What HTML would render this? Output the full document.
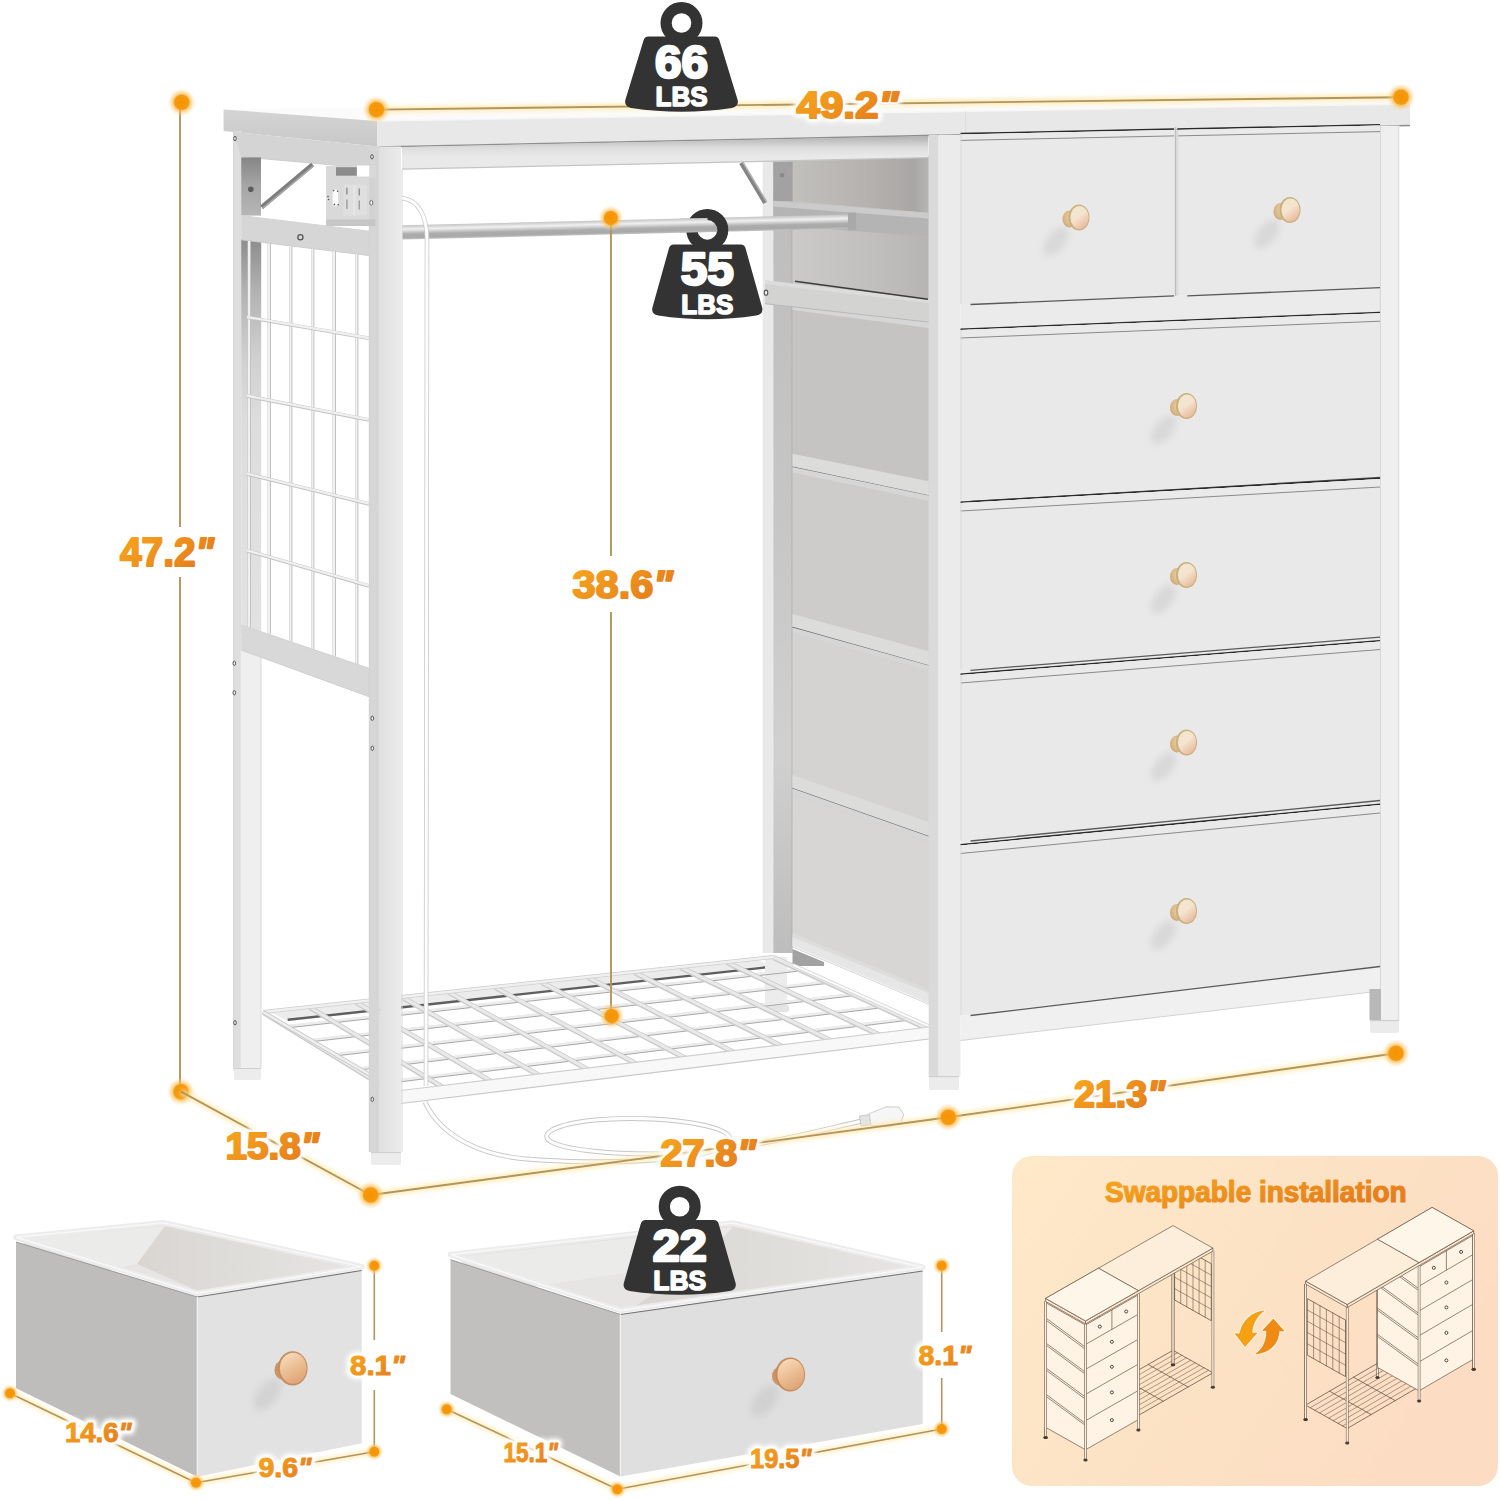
<!DOCTYPE html><html><head><meta charset="utf-8"><title>Dresser dimensions</title><style>html,body{margin:0;padding:0;background:#fff}svg{display:block}</style></head><body><svg width="1500" height="1500" viewBox="0 0 1500 1500">
<defs>
<linearGradient id="og" x1="0" y1="0" x2="1" y2="0.6"><stop offset="0" stop-color="#f7a81e"/><stop offset="1" stop-color="#e57d1c"/></linearGradient>
<radialGradient id="dotg" cx="0.5" cy="0.5" r="0.5"><stop offset="0" stop-color="#f59300"/><stop offset="0.5" stop-color="#f59a10"/><stop offset="0.58" stop-color="#f9b84a" stop-opacity="0.75"/><stop offset="1" stop-color="#fde3a8" stop-opacity="0"/></radialGradient>
<linearGradient id="rodg" x1="0" y1="0" x2="0" y2="1"><stop offset="0" stop-color="#c4c4c4"/><stop offset="0.28" stop-color="#f0f0f0"/><stop offset="0.62" stop-color="#adadad"/><stop offset="0.85" stop-color="#a8a8a8"/><stop offset="1" stop-color="#c2c2c2"/></linearGradient>
<linearGradient id="knobg" x1="0.2" y1="0" x2="0.8" y2="1"><stop offset="0" stop-color="#f2e6cc"/><stop offset="0.45" stop-color="#f4e4d0"/><stop offset="1" stop-color="#e8b496"/></linearGradient>
<linearGradient id="knobc" x1="0.25" y1="0" x2="0.75" y2="1"><stop offset="0" stop-color="#f6dcbc"/><stop offset="0.5" stop-color="#ecbd92"/><stop offset="1" stop-color="#dca274"/></linearGradient>
<linearGradient id="knobc2" x1="0" y1="0" x2="1" y2="0"><stop offset="0" stop-color="#c98f62"/><stop offset="1" stop-color="#e4b080"/></linearGradient>
<radialGradient id="knobg2" cx="0.6" cy="0.4" r="0.7"><stop offset="0" stop-color="#ead2a6"/><stop offset="0.7" stop-color="#d9b786"/><stop offset="1" stop-color="#c79e6c"/></radialGradient>
<filter id="blur2" x="-50%" y="-50%" width="200%" height="200%"><feGaussianBlur stdDeviation="2"/></filter>
<filter id="blur3" x="-50%" y="-50%" width="200%" height="200%"><feGaussianBlur stdDeviation="3.5"/></filter>
<filter id="blur1" x="-50%" y="-50%" width="200%" height="200%"><feGaussianBlur stdDeviation="1.2"/></filter>
<filter id="blur5" x="-50%" y="-50%" width="200%" height="200%"><feGaussianBlur stdDeviation="5"/></filter>
<linearGradient id="panelg" x1="0" y1="0" x2="1" y2="0.45"><stop offset="0" stop-color="#fee9c9"/><stop offset="0.5" stop-color="#fce3c5"/><stop offset="1" stop-color="#fcddc3"/></linearGradient>
<radialGradient id="panelglow" cx="0.42" cy="0.12" r="0.6"><stop offset="0" stop-color="#f9cf9a" stop-opacity="0.6"/><stop offset="1" stop-color="#f9cf9a" stop-opacity="0"/></radialGradient>
<linearGradient id="postin" x1="0" y1="0" x2="0" y2="1"><stop offset="0" stop-color="#bcbcbc"/><stop offset="0.45" stop-color="#c6c6c6"/><stop offset="0.75" stop-color="#d0d0d0"/><stop offset="1" stop-color="#bdbdbd"/></linearGradient>
<linearGradient id="sidetop" x1="0" y1="0" x2="1" y2="0"><stop offset="0" stop-color="#c1c0bd"/><stop offset="0.5" stop-color="#b7b3b1"/><stop offset="0.9" stop-color="#a9a7a5"/><stop offset="1" stop-color="#b6b6b6"/></linearGradient>
<linearGradient id="sidemid" x1="0" y1="0" x2="1" y2="0"><stop offset="0" stop-color="#cbcac8"/><stop offset="0.6" stop-color="#c0bfbd"/><stop offset="1" stop-color="#b7b5b3"/></linearGradient>
<linearGradient id="innerstrip" x1="0" y1="0" x2="0" y2="1"><stop offset="0" stop-color="#8c8c8c"/><stop offset="0.13" stop-color="#b2b2b2"/><stop offset="0.3" stop-color="#d0d0d0"/><stop offset="0.46" stop-color="#dddddd"/><stop offset="1" stop-color="#e2e2e2"/></linearGradient>
<linearGradient id="plateg" x1="0" y1="0" x2="0" y2="1"><stop offset="0" stop-color="#868686"/><stop offset="0.5" stop-color="#a6a6a6"/><stop offset="1" stop-color="#b6b6b6"/></linearGradient>
<linearGradient id="ttside" x1="0" y1="0" x2="0" y2="1"><stop offset="0" stop-color="#d4d4d4"/><stop offset="1" stop-color="#c8c8c8"/></linearGradient>
<linearGradient id="legfront" x1="0" y1="0" x2="1" y2="0"><stop offset="0" stop-color="#e0e0e0"/><stop offset="1" stop-color="#ebebeb"/></linearGradient>
<linearGradient id="railshadow" x1="0" y1="0" x2="0" y2="1"><stop offset="0" stop-color="#b0b0b0"/><stop offset="0.35" stop-color="#dcdcdc"/><stop offset="0.6" stop-color="#e9e9e9"/><stop offset="1" stop-color="#e9e9e9"/></linearGradient>
<linearGradient id="inwall" x1="0" y1="0" x2="1" y2="0"><stop offset="0" stop-color="#d9d6d2"/><stop offset="1" stop-color="#e6e5e3"/></linearGradient>
<linearGradient id="fab" x1="0" y1="0" x2="0" y2="1"><stop offset="0" stop-color="#e9e9e9"/><stop offset="1" stop-color="#ececec"/></linearGradient>
<linearGradient id="sidefab" x1="0" y1="0" x2="1" y2="0"><stop offset="0" stop-color="#e0e0e0"/><stop offset="1" stop-color="#e9e9e9"/></linearGradient>
<linearGradient id="arrg" x1="0" y1="0" x2="0" y2="1"><stop offset="0" stop-color="#f9b233"/><stop offset="1" stop-color="#ee8a1d"/></linearGradient>
</defs>
<polygon points="223.6,109.4 377.2,121.0 1410.0,104.0 1399.0,96.5 1260.0,93.5" fill="#fbfbfb" />
<rect x="762.7" y="158.0" width="10.6" height="795.0" fill="#e9e9e9" />
<rect x="773.3" y="158.0" width="19.4" height="795.0" fill="url(#postin)" />
<line x1="792.3" y1="160.0" x2="792.3" y2="946.0" stroke="#8e8e8e" stroke-width="0.9" />
<polygon points="792.5,158.0 928.7,155.0 928.7,1003.3 792.5,946.0" fill="#c8c7c5" />
<polygon points="792.5,160.0 928.7,156.5 928.7,213.0 792.5,201.0" fill="url(#sidetop)" />
<polygon points="792.5,224.0 928.7,236.7 928.7,299.3 792.5,281.3" fill="url(#sidemid)" />
<rect x="773.3" y="162.0" width="19.2" height="39.0" fill="#a2a2a2" />
<circle cx="782" cy="175.3" r="2.3" fill="#8a8a8a"/>
<polygon points="773.3,200.7 928.7,212.7 928.7,236.7 773.3,224.7" fill="#b4b4b4" />
<polygon points="773.3,200.7 928.7,212.7 928.7,218.5 773.3,206.5" fill="#cbcbcb" />
<polygon points="792.5,310.0 928.7,328.0 928.7,495.3 792.5,466.7" fill="#c5c4c2" />
<polygon points="792.5,453.7 928.7,481.3 928.7,495.3 792.5,466.7" fill="#dcdcdb" />
<polygon points="792.5,304.5 928.7,322.5 928.7,328.0 792.5,310.0" fill="#d6d6d6" />
<line x1="792.5" y1="467.1" x2="928.7" y2="495.7" stroke="#6a6a6a" stroke-width="1.1" />
<polygon points="792.5,472.5 928.7,501.0 928.7,665.3 792.5,627.0" fill="#cdccca" />
<polygon points="792.5,614.0 928.7,651.3 928.7,665.3 792.5,627.0" fill="#dcdcdb" />
<polygon points="792.5,467.0 928.7,495.5 928.7,501.0 792.5,472.5" fill="#d6d6d6" />
<line x1="792.5" y1="627.4" x2="928.7" y2="665.7" stroke="#6a6a6a" stroke-width="1.1" />
<polygon points="792.5,633.0 928.7,671.0 928.7,836.0 792.5,788.0" fill="#d4d3d1" />
<polygon points="792.5,775.0 928.7,822.0 928.7,836.0 792.5,788.0" fill="#dcdcdb" />
<polygon points="792.5,627.5 928.7,665.5 928.7,671.0 792.5,633.0" fill="#d6d6d6" />
<line x1="792.5" y1="788.4" x2="928.7" y2="836.4" stroke="#6a6a6a" stroke-width="1.1" />
<polygon points="792.5,794.0 928.7,842.0 928.7,1003.3 792.5,946.0" fill="#d7d6d4" />
<polygon points="792.5,933.0 928.7,989.3 928.7,1003.3 792.5,946.0" fill="#dcdcdb" />
<polygon points="792.5,788.5 928.7,836.5 928.7,842.0 792.5,794.0" fill="#d6d6d6" />
<line x1="792.5" y1="946.4" x2="928.7" y2="1003.7" stroke="#6a6a6a" stroke-width="1.1" />
<polygon points="792.5,937.0 928.7,993.3 928.7,1003.3 792.5,946.0" fill="#e6e6e6" />
<line x1="792.5" y1="946.3" x2="928.7" y2="1003.6" stroke="#efefef" stroke-width="1.6" />
<polygon points="792.5,949.0 824.0,962.0 824.0,966.0 792.5,966.0" fill="#a2a2a2" />
<polygon points="765.0,280.3 936.7,300.3 936.7,323.0 765.0,303.7" fill="#d3d3d1" />
<polygon points="765.0,280.3 936.7,300.3 936.7,304.0 765.0,284.0" fill="#dcdcdc" />
<line x1="795.0" y1="281.3" x2="928.0" y2="299.3" stroke="#3c3c3c" stroke-width="1.4" />
<line x1="765.0" y1="303.7" x2="936.7" y2="323.0" stroke="#b9b9b9" stroke-width="1" />
<ellipse cx="766" cy="292.7" rx="1.8" ry="2.6" fill="#eee" stroke="#555" stroke-width="1.1"/><ellipse cx="932.7" cy="316.2" rx="1.8" ry="2.6" fill="#eee" stroke="#555" stroke-width="1.1"/>
<polygon points="223.6,109.4 377.2,121.0 377.2,146.5 223.6,131.0" fill="url(#ttside)" />
<polygon points="377.2,121.0 1410.0,104.0 1410.0,125.0 377.2,146.5" fill="#e8e8e8"/>
<line x1="377.2" y1="147.0" x2="1410.0" y2="125.5" stroke="#8f8f8f" stroke-width="1.6" />
<line x1="377.2" y1="121.0" x2="1410.0" y2="104.0" stroke="#f6f6f6" stroke-width="1.5" />
<line x1="965.6" y1="111.3" x2="965.6" y2="134.3" stroke="#dddddd" stroke-width="1" />
<polygon points="402.0,147.0 928.3,136.0 928.3,157.7 402.0,169.2" fill="url(#railshadow)" />
<line x1="402.0" y1="169.2" x2="928.3" y2="157.7" stroke="#c4c4c4" stroke-width="1.2" />
<line x1="741.0" y1="163.0" x2="765.0" y2="203.0" stroke="#848484" stroke-width="4" />
<line x1="742.8" y1="162.0" x2="766.8" y2="202.0" stroke="#b5b5b5" stroke-width="1.5" />
<polygon points="271.9,1013.0 758.3,960.4 775.3,967.7 288.8,1021.2" fill="#ececec" />
<line x1="287.7" y1="1019.8" x2="770.3" y2="966.9" stroke="#5e5e5e" stroke-width="2.4" />
<rect x="765.0" y="957.0" width="22.0" height="52.0" fill="#ececec" />
<rect x="763.0" y="1005.0" width="26.0" height="7.0" fill="#e4e4e4" rx="2"/>
<line x1="286.0" y1="1027.0" x2="799.7" y2="970.1" stroke="#a8a8a8" stroke-width="3.0" />
<line x1="286.0" y1="1026.2" x2="799.7" y2="969.3" stroke="#ececec" stroke-width="2.6" />
<line x1="309.0" y1="1041.1" x2="826.3" y2="982.5" stroke="#a8a8a8" stroke-width="3.0" />
<line x1="309.0" y1="1040.3" x2="826.3" y2="981.7" stroke="#ececec" stroke-width="2.6" />
<line x1="332.0" y1="1055.3" x2="853.0" y2="994.8" stroke="#a8a8a8" stroke-width="3.0" />
<line x1="332.0" y1="1054.5" x2="853.0" y2="994.0" stroke="#ececec" stroke-width="2.6" />
<line x1="355.0" y1="1069.5" x2="879.7" y2="1007.1" stroke="#a8a8a8" stroke-width="3.0" />
<line x1="355.0" y1="1068.7" x2="879.7" y2="1006.3" stroke="#ececec" stroke-width="2.6" />
<line x1="378.0" y1="1083.6" x2="906.3" y2="1019.5" stroke="#a8a8a8" stroke-width="3.0" />
<line x1="378.0" y1="1082.8" x2="906.3" y2="1018.7" stroke="#ececec" stroke-width="2.6" />
<line x1="264.0" y1="1013.5" x2="402.0" y2="1098.5" stroke="#d2d2d2" stroke-width="4.2" />
<line x1="263.0" y1="1012.0" x2="401.0" y2="1097.0" stroke="#c2c2c2" stroke-width="4.4" />
<line x1="263.0" y1="1012.0" x2="401.0" y2="1097.0" stroke="#e9e9e9" stroke-width="3.2" />
<line x1="310.4" y1="1008.5" x2="450.4" y2="1092.5" stroke="#d2d2d2" stroke-width="4.2" />
<line x1="309.4" y1="1007.0" x2="449.4" y2="1091.0" stroke="#c2c2c2" stroke-width="4.4" />
<line x1="309.4" y1="1007.0" x2="449.4" y2="1091.0" stroke="#e9e9e9" stroke-width="3.2" />
<line x1="356.7" y1="1003.5" x2="498.7" y2="1086.5" stroke="#d2d2d2" stroke-width="4.2" />
<line x1="355.7" y1="1002.0" x2="497.7" y2="1085.0" stroke="#c2c2c2" stroke-width="4.4" />
<line x1="355.7" y1="1002.0" x2="497.7" y2="1085.0" stroke="#e9e9e9" stroke-width="3.2" />
<line x1="403.1" y1="998.5" x2="547.1" y2="1080.5" stroke="#d2d2d2" stroke-width="4.2" />
<line x1="402.1" y1="997.0" x2="546.1" y2="1079.0" stroke="#c2c2c2" stroke-width="4.4" />
<line x1="402.1" y1="997.0" x2="546.1" y2="1079.0" stroke="#e9e9e9" stroke-width="3.2" />
<line x1="449.5" y1="993.5" x2="595.5" y2="1074.5" stroke="#d2d2d2" stroke-width="4.2" />
<line x1="448.5" y1="992.0" x2="594.5" y2="1073.0" stroke="#c2c2c2" stroke-width="4.4" />
<line x1="448.5" y1="992.0" x2="594.5" y2="1073.0" stroke="#e9e9e9" stroke-width="3.2" />
<line x1="495.8" y1="988.5" x2="643.8" y2="1068.5" stroke="#d2d2d2" stroke-width="4.2" />
<line x1="494.8" y1="987.0" x2="642.8" y2="1067.0" stroke="#c2c2c2" stroke-width="4.4" />
<line x1="494.8" y1="987.0" x2="642.8" y2="1067.0" stroke="#e9e9e9" stroke-width="3.2" />
<line x1="542.2" y1="983.5" x2="692.2" y2="1062.5" stroke="#d2d2d2" stroke-width="4.2" />
<line x1="541.2" y1="982.0" x2="691.2" y2="1061.0" stroke="#c2c2c2" stroke-width="4.4" />
<line x1="541.2" y1="982.0" x2="691.2" y2="1061.0" stroke="#e9e9e9" stroke-width="3.2" />
<line x1="588.5" y1="978.5" x2="740.5" y2="1056.5" stroke="#d2d2d2" stroke-width="4.2" />
<line x1="587.5" y1="977.0" x2="739.5" y2="1055.0" stroke="#c2c2c2" stroke-width="4.4" />
<line x1="587.5" y1="977.0" x2="739.5" y2="1055.0" stroke="#e9e9e9" stroke-width="3.2" />
<line x1="634.9" y1="973.5" x2="788.9" y2="1050.5" stroke="#d2d2d2" stroke-width="4.2" />
<line x1="633.9" y1="972.0" x2="787.9" y2="1049.0" stroke="#c2c2c2" stroke-width="4.4" />
<line x1="633.9" y1="972.0" x2="787.9" y2="1049.0" stroke="#e9e9e9" stroke-width="3.2" />
<line x1="681.3" y1="968.5" x2="837.3" y2="1044.5" stroke="#d2d2d2" stroke-width="4.2" />
<line x1="680.3" y1="967.0" x2="836.3" y2="1043.0" stroke="#c2c2c2" stroke-width="4.4" />
<line x1="680.3" y1="967.0" x2="836.3" y2="1043.0" stroke="#e9e9e9" stroke-width="3.2" />
<line x1="727.6" y1="963.5" x2="885.6" y2="1038.5" stroke="#d2d2d2" stroke-width="4.2" />
<line x1="726.6" y1="962.0" x2="884.6" y2="1037.0" stroke="#c2c2c2" stroke-width="4.4" />
<line x1="726.6" y1="962.0" x2="884.6" y2="1037.0" stroke="#e9e9e9" stroke-width="3.2" />
<line x1="774.0" y1="958.5" x2="934.0" y2="1032.5" stroke="#d2d2d2" stroke-width="4.2" />
<line x1="773.0" y1="957.0" x2="933.0" y2="1031.0" stroke="#c2c2c2" stroke-width="4.4" />
<line x1="773.0" y1="957.0" x2="933.0" y2="1031.0" stroke="#e9e9e9" stroke-width="3.2" />
<line x1="263.0" y1="1012.0" x2="773.0" y2="957.0" stroke="#cccccc" stroke-width="4" />
<line x1="263.0" y1="1012.0" x2="773.0" y2="957.0" stroke="#f0f0f0" stroke-width="2.5" />
<line x1="263.0" y1="1012.0" x2="401.0" y2="1093.0" stroke="#c6c6c6" stroke-width="4" />
<line x1="263.0" y1="1012.0" x2="401.0" y2="1093.0" stroke="#efefef" stroke-width="2.5" />
<line x1="793.0" y1="965.0" x2="933.0" y2="1028.0" stroke="#d2d2d2" stroke-width="3.6" />
<line x1="793.0" y1="965.0" x2="933.0" y2="1028.0" stroke="#fafafa" stroke-width="2.2" />
<polygon points="401.0,1090.5 933.0,1026.5 933.0,1038.5 401.0,1103.5" fill="#f8f8f8" />
<line x1="401.0" y1="1090.5" x2="933.0" y2="1026.5" stroke="#cfcfcf" stroke-width="1.2" />
<line x1="401.0" y1="1103.5" x2="933.0" y2="1038.5" stroke="#c9c9c9" stroke-width="1.2" />
<g transform="rotate(-1.387 402 225.3)"><rect x="402" y="225.3" width="446.2" height="14.2" fill="url(#rodg)"/><rect x="848" y="223.6" width="8" height="17.6" fill="#a9a9a9"/></g>
<rect x="233.4" y="131.0" width="7.8" height="940.0" fill="#dedede" />
<rect x="241.2" y="239.0" width="20.0" height="395.0" fill="url(#innerstrip)" />
<rect x="240.7" y="648.0" width="20.3" height="422.0" fill="#efefef" />
<line x1="261.0" y1="650.0" x2="261.0" y2="1068.0" stroke="#d9d9d9" stroke-width="1" />
<line x1="233.6" y1="131.0" x2="233.6" y2="1068.0" stroke="#d5d5d5" stroke-width="1" />
<rect x="234.0" y="1068.0" width="27.0" height="12.0" fill="#ececec" rx="2"/>
<line x1="234.0" y1="1068.5" x2="261.0" y2="1068.5" stroke="#cfcfcf" stroke-width="1" />
<polygon points="233.4,132.0 377.2,146.5 369.0,168.2 241.2,156.8" fill="#d4d4d4" />
<line x1="241.2" y1="156.8" x2="369.0" y2="168.2" stroke="#cfcfcf" stroke-width="1" />
<rect x="241.2" y="157.4" width="19.8" height="58.2" fill="url(#plateg)" />
<circle cx="250.8" cy="189.2" r="2.8" fill="#5c5c5c"/>
<line x1="261.6" y1="207.2" x2="312.6" y2="164.6" stroke="#7e7e7e" stroke-width="4.5" />
<line x1="262.6" y1="208.4" x2="313.6" y2="165.8" stroke="#a8a8a8" stroke-width="1.6" />
<polygon points="241.2,215.6 369.0,231.2 369.0,255.5 241.2,239.8" fill="#d6d6d6" />
<line x1="241.2" y1="215.6" x2="369.0" y2="231.2" stroke="#d3d3d3" stroke-width="1" />
<line x1="241.2" y1="239.8" x2="369.0" y2="255.5" stroke="#cccccc" stroke-width="1" />
<circle cx="300.4" cy="237.2" r="2.6" fill="none" stroke="#555" stroke-width="1.3"/>
<line x1="249.3" y1="240.8" x2="249.3" y2="627.7" stroke="#bdbdbd" stroke-width="3.4" />
<line x1="249.0" y1="240.8" x2="249.0" y2="627.7" stroke="#f0f0f0" stroke-width="2.2" />
<line x1="269.3" y1="243.3" x2="269.3" y2="634.5" stroke="#bdbdbd" stroke-width="3.4" />
<line x1="269.0" y1="243.3" x2="269.0" y2="634.5" stroke="#f0f0f0" stroke-width="2.2" />
<line x1="290.7" y1="245.9" x2="290.7" y2="641.8" stroke="#bdbdbd" stroke-width="3.4" />
<line x1="290.4" y1="245.9" x2="290.4" y2="641.8" stroke="#f0f0f0" stroke-width="2.2" />
<line x1="312.7" y1="248.6" x2="312.7" y2="649.2" stroke="#bdbdbd" stroke-width="3.4" />
<line x1="312.4" y1="248.6" x2="312.4" y2="649.2" stroke="#f0f0f0" stroke-width="2.2" />
<line x1="334.3" y1="251.2" x2="334.3" y2="656.5" stroke="#bdbdbd" stroke-width="3.4" />
<line x1="334.0" y1="251.2" x2="334.0" y2="656.5" stroke="#f0f0f0" stroke-width="2.2" />
<line x1="356.7" y1="254.0" x2="356.7" y2="664.1" stroke="#bdbdbd" stroke-width="3.4" />
<line x1="356.4" y1="254.0" x2="356.4" y2="664.1" stroke="#f0f0f0" stroke-width="2.2" />
<line x1="247.0" y1="317.3" x2="369.0" y2="338.3" stroke="#c2c2c2" stroke-width="3.6" />
<line x1="247.0" y1="317.0" x2="369.0" y2="338.0" stroke="#f0f0f0" stroke-width="2.3" />
<line x1="247.0" y1="396.0" x2="369.0" y2="420.0" stroke="#c2c2c2" stroke-width="3.6" />
<line x1="247.0" y1="395.7" x2="369.0" y2="419.7" stroke="#f0f0f0" stroke-width="2.3" />
<line x1="247.0" y1="474.0" x2="369.0" y2="504.0" stroke="#c2c2c2" stroke-width="3.6" />
<line x1="247.0" y1="473.7" x2="369.0" y2="503.7" stroke="#f0f0f0" stroke-width="2.3" />
<line x1="247.0" y1="550.7" x2="369.0" y2="586.0" stroke="#c2c2c2" stroke-width="3.6" />
<line x1="247.0" y1="550.4" x2="369.0" y2="585.7" stroke="#f0f0f0" stroke-width="2.3" />
<polygon points="241.2,625.0 369.0,668.3 369.0,696.7 241.2,650.0" fill="#d8d8d8" />
<line x1="241.2" y1="625.0" x2="369.0" y2="668.3" stroke="#d3d3d3" stroke-width="1" />
<line x1="241.2" y1="650.0" x2="369.0" y2="696.7" stroke="#cfcfcf" stroke-width="1" />
<rect x="369.0" y="146.0" width="10.7" height="1006.0" fill="#d6d6d6" />
<rect x="379.7" y="146.5" width="21.3" height="1006.0" fill="url(#legfront)" />
<line x1="369.3" y1="150.0" x2="369.3" y2="1152.0" stroke="#d2d2d2" stroke-width="1" />
<line x1="402.0" y1="170.0" x2="402.0" y2="1152.0" stroke="#d8d8d8" stroke-width="1" />
<line x1="379.2" y1="147.0" x2="379.2" y2="1152.0" stroke="#e0e0e0" stroke-width="0.8" />
<rect x="371.0" y="1152.0" width="30.0" height="13.0" fill="#ececec" rx="2.5"/>
<line x1="371.0" y1="1152.6" x2="401.0" y2="1152.6" stroke="#cccccc" stroke-width="1" />
<rect x="326.1" y="166.0" width="49.4" height="53.2" fill="#d9d9d9" />
<rect x="356.8" y="165.5" width="12.4" height="11.0" fill="#ffffff" />
<rect x="336.0" y="167.2" width="20.8" height="8.5" fill="#8c8c8c" />
<rect x="326.1" y="219.2" width="49.4" height="6.8" fill="#c6c6c6" />
<rect x="369.5" y="178.0" width="6.0" height="41.0" fill="#d2d2d2" />
<rect x="343.5" y="184.5" width="23.4" height="31.0" fill="#dfdfdf" />
<line x1="354.1" y1="185.0" x2="354.1" y2="215.5" stroke="#ececec" stroke-width="1.2" />
<line x1="346.9" y1="187.7" x2="346.9" y2="194.5" stroke="#777" stroke-width="1.1" />
<line x1="346.9" y1="199.5" x2="346.9" y2="209.0" stroke="#8a8a8a" stroke-width="1.1" />
<line x1="359.2" y1="188.5" x2="359.2" y2="195.5" stroke="#777" stroke-width="1.1" />
<line x1="359.2" y1="200.5" x2="359.2" y2="209.5" stroke="#8a8a8a" stroke-width="1.1" />
<rect x="332.6" y="189.5" width="5.6" height="16.2" fill="#fbfbfb" rx="2.2"/>
<circle cx="333.6" cy="190.6" r="0.8" fill="#555"/>
<circle cx="337.6" cy="191.2" r="0.8" fill="#555"/>
<circle cx="334.4" cy="204.4" r="0.8" fill="#555"/>
<circle cx="338.2" cy="204.8" r="0.8" fill="#555"/>
<circle cx="328" cy="196.5" r="0.8" fill="#555"/>
<circle cx="328.6" cy="199.5" r="0.8" fill="#555"/>
<ellipse cx="371.3" cy="202.7" rx="1.5" ry="2.4" fill="#eee" stroke="#666" stroke-width="0.9"/>
<ellipse cx="235" cy="138.5" rx="1.3" ry="2.2" fill="#eee" stroke="#555" stroke-width="1"/>
<ellipse cx="372" cy="156.8" rx="1.3" ry="2.2" fill="#eee" stroke="#555" stroke-width="1"/>
<ellipse cx="234.3" cy="663.3" rx="1.3" ry="2.2" fill="#eee" stroke="#555" stroke-width="1"/>
<ellipse cx="234.3" cy="692.7" rx="1.3" ry="2.2" fill="#eee" stroke="#555" stroke-width="1"/>
<ellipse cx="372.3" cy="718.3" rx="1.3" ry="2.2" fill="#eee" stroke="#555" stroke-width="1"/>
<ellipse cx="372.3" cy="748.3" rx="1.3" ry="2.2" fill="#eee" stroke="#555" stroke-width="1"/>
<ellipse cx="235" cy="1022.7" rx="1.3" ry="2.2" fill="#eee" stroke="#555" stroke-width="1"/>
<ellipse cx="372.3" cy="1099.3" rx="1.3" ry="2.2" fill="#eee" stroke="#555" stroke-width="1"/>
<rect x="928.7" y="135.0" width="10.0" height="941.7" fill="#dadada" />
<rect x="938.7" y="134.8" width="21.8" height="941.9" fill="#ebebeb" />
<rect x="929.0" y="1076.0" width="30.0" height="14.0" fill="#ececec" rx="2.5"/>
<line x1="929.0" y1="1076.6" x2="959.0" y2="1076.6" stroke="#cccccc" stroke-width="1" />
<polygon points="960.5,134.4 1380.0,125.6 1380.0,968.0 960.5,1017.0" fill="#ebebeb" />
<rect x="1380.5" y="125.6" width="19.0" height="894.4" fill="#efefef" />
<line x1="1380.3" y1="126.0" x2="1380.3" y2="1020.0" stroke="#d0d0d0" stroke-width="1" />
<line x1="1398.4" y1="126.0" x2="1398.4" y2="1020.0" stroke="#dedede" stroke-width="1" />
<rect x="1370.0" y="1020.0" width="29.0" height="13.0" fill="#ebebeb" rx="2.5"/>
<line x1="1370.0" y1="1020.6" x2="1399.0" y2="1020.6" stroke="#cccccc" stroke-width="1" />
<polygon points="960.5,1015.0 1380.0,966.0 1380.0,991.0 960.5,1040.5" fill="#f0f0f0" />
<line x1="960.5" y1="1040.5" x2="1380.0" y2="991.0" stroke="#d2d2d2" stroke-width="1" />
<rect x="1369.5" y="989.0" width="11.5" height="31.0" fill="#b8b8b8" />
<line x1="960.5" y1="133.6" x2="1174.0" y2="129.1" stroke="#2a2a2a" stroke-width="1.5" />
<polygon points="960.5,134.4 1174.0,129.9 1174.0,295.4 960.5,304.0" fill="#e9e9e9" />
<polygon points="960.5,134.4 1174.0,129.9 1174.0,135.9 960.5,140.4" fill="#eaeaea" />
<line x1="960.5" y1="140.4" x2="1174.0" y2="135.9" stroke="#8a8a8a" stroke-width="1" />
<line x1="970.5" y1="304.5" x2="1174.0" y2="295.9" stroke="#5a5a5a" stroke-width="1.3" />
<line x1="961.0" y1="134.4" x2="961.0" y2="304.0" stroke="#d8d8d8" stroke-width="1" />
<line x1="1177.3" y1="129.1" x2="1380.0" y2="124.8" stroke="#2a2a2a" stroke-width="1.5" />
<polygon points="1177.3,129.9 1380.0,125.6 1380.0,287.2 1177.3,295.3" fill="#e9e9e9" />
<polygon points="1177.3,129.9 1380.0,125.6 1380.0,131.6 1177.3,135.9" fill="#eaeaea" />
<line x1="1177.3" y1="135.9" x2="1380.0" y2="131.6" stroke="#8a8a8a" stroke-width="1" />
<line x1="1187.3" y1="295.8" x2="1380.0" y2="287.7" stroke="#5a5a5a" stroke-width="1.3" />
<line x1="1177.8" y1="129.9" x2="1177.8" y2="295.3" stroke="#d8d8d8" stroke-width="1" />
<line x1="1175.6" y1="127.0" x2="1175.6" y2="296.0" stroke="#bdbdbd" stroke-width="1.6" />
<line x1="960.5" y1="329.2" x2="1380.0" y2="312.4" stroke="#2a2a2a" stroke-width="1.5" />
<polygon points="960.5,330.0 1380.0,313.2 1380.0,477.0 960.5,501.0" fill="#e9e9e9" />
<polygon points="960.5,330.0 1380.0,313.2 1380.0,321.2 960.5,338.0" fill="#eaeaea" />
<line x1="960.5" y1="338.0" x2="1380.0" y2="321.2" stroke="#8a8a8a" stroke-width="1" />
<line x1="970.5" y1="501.5" x2="1380.0" y2="477.5" stroke="#5a5a5a" stroke-width="1.3" />
<line x1="961.0" y1="330.0" x2="961.0" y2="501.0" stroke="#d8d8d8" stroke-width="1" />
<line x1="960.5" y1="502.2" x2="1380.0" y2="478.2" stroke="#2a2a2a" stroke-width="1.5" />
<polygon points="960.5,503.0 1380.0,479.0 1380.0,636.7 960.5,669.8" fill="#e9e9e9" />
<polygon points="960.5,503.0 1380.0,479.0 1380.0,487.0 960.5,511.0" fill="#eaeaea" />
<line x1="960.5" y1="511.0" x2="1380.0" y2="487.0" stroke="#8a8a8a" stroke-width="1" />
<line x1="970.5" y1="670.3" x2="1380.0" y2="637.2" stroke="#5a5a5a" stroke-width="1.3" />
<line x1="961.0" y1="503.0" x2="961.0" y2="669.8" stroke="#d8d8d8" stroke-width="1" />
<line x1="960.5" y1="674.2" x2="1380.0" y2="640.7" stroke="#2a2a2a" stroke-width="1.5" />
<polygon points="960.5,675.0 1380.0,641.5 1380.0,800.0 960.5,840.5" fill="#e9e9e9" />
<polygon points="960.5,675.0 1380.0,641.5 1380.0,649.5 960.5,683.0" fill="#eaeaea" />
<line x1="960.5" y1="683.0" x2="1380.0" y2="649.5" stroke="#8a8a8a" stroke-width="1" />
<line x1="970.5" y1="841.0" x2="1380.0" y2="800.5" stroke="#5a5a5a" stroke-width="1.3" />
<line x1="961.0" y1="675.0" x2="961.0" y2="840.5" stroke="#d8d8d8" stroke-width="1" />
<line x1="960.5" y1="844.7" x2="1380.0" y2="804.2" stroke="#2a2a2a" stroke-width="1.5" />
<polygon points="960.5,845.5 1380.0,805.0 1380.0,966.0 960.5,1015.0" fill="#e9e9e9" />
<polygon points="960.5,845.5 1380.0,805.0 1380.0,813.0 960.5,853.5" fill="#eaeaea" />
<line x1="960.5" y1="853.5" x2="1380.0" y2="813.0" stroke="#8a8a8a" stroke-width="1" />
<line x1="970.5" y1="1015.5" x2="1380.0" y2="966.5" stroke="#5a5a5a" stroke-width="1.3" />
<line x1="961.0" y1="845.5" x2="961.0" y2="1015.0" stroke="#d8d8d8" stroke-width="1" />
<ellipse cx="1056.0" cy="241.5" rx="9.0" ry="17.0" fill="#a9a9a9" opacity="0.26" filter="url(#blur3)" transform="rotate(38 1056.0 241.5)"/>
<ellipse cx="1069.5" cy="219.0" rx="7.0" ry="8.5" fill="url(#knobg2)"/>
<ellipse cx="1079.0" cy="217.5" rx="10.5" ry="13.0" fill="#c9b07c"/>
<ellipse cx="1079.5" cy="217.5" rx="9.1" ry="11.6" fill="url(#knobg)"/>
<ellipse cx="1267.0" cy="234.0" rx="9.0" ry="17.0" fill="#a9a9a9" opacity="0.26" filter="url(#blur3)" transform="rotate(38 1267.0 234.0)"/>
<ellipse cx="1280.5" cy="211.5" rx="7.0" ry="8.5" fill="url(#knobg2)"/>
<ellipse cx="1290.0" cy="210.0" rx="10.5" ry="13.0" fill="#c9b07c"/>
<ellipse cx="1290.5" cy="210.0" rx="9.1" ry="11.6" fill="url(#knobg)"/>
<ellipse cx="1163.5" cy="430.0" rx="9.0" ry="17.0" fill="#a9a9a9" opacity="0.26" filter="url(#blur3)" transform="rotate(38 1163.5 430.0)"/>
<ellipse cx="1177.0" cy="407.5" rx="7.0" ry="8.5" fill="url(#knobg2)"/>
<ellipse cx="1186.5" cy="406.0" rx="10.5" ry="13.0" fill="#c9b07c"/>
<ellipse cx="1187.0" cy="406.0" rx="9.1" ry="11.6" fill="url(#knobg)"/>
<ellipse cx="1163.5" cy="599.0" rx="9.0" ry="17.0" fill="#a9a9a9" opacity="0.26" filter="url(#blur3)" transform="rotate(38 1163.5 599.0)"/>
<ellipse cx="1177.0" cy="576.5" rx="7.0" ry="8.5" fill="url(#knobg2)"/>
<ellipse cx="1186.5" cy="575.0" rx="10.5" ry="13.0" fill="#c9b07c"/>
<ellipse cx="1187.0" cy="575.0" rx="9.1" ry="11.6" fill="url(#knobg)"/>
<ellipse cx="1163.5" cy="766.5" rx="9.0" ry="17.0" fill="#a9a9a9" opacity="0.26" filter="url(#blur3)" transform="rotate(38 1163.5 766.5)"/>
<ellipse cx="1177.0" cy="744.0" rx="7.0" ry="8.5" fill="url(#knobg2)"/>
<ellipse cx="1186.5" cy="742.5" rx="10.5" ry="13.0" fill="#c9b07c"/>
<ellipse cx="1187.0" cy="742.5" rx="9.1" ry="11.6" fill="url(#knobg)"/>
<ellipse cx="1163.5" cy="935.0" rx="9.0" ry="17.0" fill="#a9a9a9" opacity="0.26" filter="url(#blur3)" transform="rotate(38 1163.5 935.0)"/>
<ellipse cx="1177.0" cy="912.5" rx="7.0" ry="8.5" fill="url(#knobg2)"/>
<ellipse cx="1186.5" cy="911.0" rx="10.5" ry="13.0" fill="#c9b07c"/>
<ellipse cx="1187.0" cy="911.0" rx="9.1" ry="11.6" fill="url(#knobg)"/>
<path d="M402,198 C418,200 427,215 427,240 L426,1086" fill="none" stroke="#c9c9c9" stroke-width="4.6"/><path d="M402,198 C418,200 427,215 427,240 L426,1086" fill="none" stroke="#fdfdfd" stroke-width="3"/>
<path d="M425,1102 C440,1135 480,1158 540,1160 C640,1166 735,1156 730,1138 C724,1118 590,1110 552,1130 C520,1150 640,1160 720,1150 C780,1142 830,1128 862,1121" fill="none" stroke="#c6c6c6" stroke-width="5"/><path d="M425,1102 C440,1135 480,1158 540,1160 C640,1166 735,1156 730,1138 C724,1118 590,1110 552,1130 C520,1150 640,1160 720,1150 C780,1142 830,1128 862,1121" fill="none" stroke="#fdfdfd" stroke-width="3.2"/>
<g transform="rotate(-9 880 1118)"><rect x="860" y="1113" width="10" height="10" fill="#e3e3e3" stroke="#bdbdbd" stroke-width="0.8"/><path d="M870,1112 L888,1108 L900,1110 L904,1118 L900,1126 L888,1128 L870,1124 Z" fill="#f6f6f6" stroke="#cfcfcf" stroke-width="1"/></g>
<line x1="180.0" y1="102.0" x2="180.0" y2="527.0" stroke="#ffe9a8" stroke-width="6.9" opacity="0.7" filter="url(#blur2)"/>
<line x1="180.0" y1="102.0" x2="180.0" y2="527.0" stroke="#b4945a" stroke-width="1.9" />
<line x1="180.0" y1="577.0" x2="180.0" y2="1091.0" stroke="#ffe9a8" stroke-width="6.9" opacity="0.7" filter="url(#blur2)"/>
<line x1="180.0" y1="577.0" x2="180.0" y2="1091.0" stroke="#b4945a" stroke-width="1.9" />
<circle cx="181.7" cy="102.3" r="14.2" fill="url(#dotg)"/>
<circle cx="181.0" cy="1091.7" r="14.2" fill="url(#dotg)"/>
<line x1="181.0" y1="1091.7" x2="370.7" y2="1195.0" stroke="#ffe9a8" stroke-width="6.9" opacity="0.7" filter="url(#blur2)"/>
<line x1="181.0" y1="1091.7" x2="370.7" y2="1195.0" stroke="#b4945a" stroke-width="1.9" />
<line x1="370.7" y1="1195.0" x2="948.3" y2="1117.3" stroke="#ffe9a8" stroke-width="6.9" opacity="0.7" filter="url(#blur2)"/>
<line x1="370.7" y1="1195.0" x2="948.3" y2="1117.3" stroke="#b4945a" stroke-width="1.9" />
<line x1="948.3" y1="1117.3" x2="1396.0" y2="1053.3" stroke="#ffe9a8" stroke-width="6.9" opacity="0.7" filter="url(#blur2)"/>
<line x1="948.3" y1="1117.3" x2="1396.0" y2="1053.3" stroke="#b4945a" stroke-width="1.9" />
<circle cx="370.7" cy="1195.0" r="14.2" fill="url(#dotg)"/>
<circle cx="948.3" cy="1117.3" r="14.2" fill="url(#dotg)"/>
<circle cx="1396.0" cy="1053.3" r="14.2" fill="url(#dotg)"/>
<line x1="376.4" y1="109.6" x2="1401.0" y2="97.2" stroke="#ffe9a8" stroke-width="6.9" opacity="0.7" filter="url(#blur2)"/>
<line x1="376.4" y1="109.6" x2="1401.0" y2="97.2" stroke="#b4945a" stroke-width="1.9" />
<circle cx="376.4" cy="109.6" r="14.2" fill="url(#dotg)"/>
<circle cx="1401.0" cy="97.2" r="14.2" fill="url(#dotg)"/>
<line x1="611.0" y1="218.0" x2="611.0" y2="556.0" stroke="#ffe9a8" stroke-width="6.9" opacity="0.7" filter="url(#blur2)"/>
<line x1="611.0" y1="218.0" x2="611.0" y2="556.0" stroke="#b4945a" stroke-width="1.9" />
<line x1="611.0" y1="612.0" x2="611.0" y2="1016.0" stroke="#ffe9a8" stroke-width="6.9" opacity="0.7" filter="url(#blur2)"/>
<line x1="611.0" y1="612.0" x2="611.0" y2="1016.0" stroke="#b4945a" stroke-width="1.9" />
<circle cx="610.8" cy="218.0" r="12.9" fill="url(#dotg)"/>
<circle cx="611.7" cy="1016.0" r="12.9" fill="url(#dotg)"/>
<text x="120.0" y="566.0" textLength="94.0" lengthAdjust="spacingAndGlyphs" style="font-family:'Liberation Sans',sans-serif;font-weight:bold;font-size:40.5px" fill="#fff" stroke="#fff" stroke-width="9" stroke-linejoin="round" filter="url(#blur2)">47.2<tspan style="font-style:italic">&quot;</tspan></text>
<text x="120.0" y="566.0" textLength="94.0" lengthAdjust="spacingAndGlyphs" style="font-family:'Liberation Sans',sans-serif;font-weight:bold;font-size:40.5px" fill="#fff" stroke="#fff" stroke-width="5" stroke-linejoin="round">47.2<tspan style="font-style:italic">&quot;</tspan></text>
<text x="120.0" y="566.0" textLength="94.0" lengthAdjust="spacingAndGlyphs" style="font-family:'Liberation Sans',sans-serif;font-weight:bold;font-size:40.5px" fill="url(#og)" stroke="url(#og)" stroke-width="2.0" stroke-linejoin="round">47.2<tspan style="font-style:italic">&quot;</tspan></text>
<text x="572.5" y="597.8" textLength="100.5" lengthAdjust="spacingAndGlyphs" style="font-family:'Liberation Sans',sans-serif;font-weight:bold;font-size:39.5px" fill="#fff" stroke="#fff" stroke-width="9" stroke-linejoin="round" filter="url(#blur2)">38.6<tspan style="font-style:italic">&quot;</tspan></text>
<text x="572.5" y="597.8" textLength="100.5" lengthAdjust="spacingAndGlyphs" style="font-family:'Liberation Sans',sans-serif;font-weight:bold;font-size:39.5px" fill="#fff" stroke="#fff" stroke-width="5" stroke-linejoin="round">38.6<tspan style="font-style:italic">&quot;</tspan></text>
<text x="572.5" y="597.8" textLength="100.5" lengthAdjust="spacingAndGlyphs" style="font-family:'Liberation Sans',sans-serif;font-weight:bold;font-size:39.5px" fill="url(#og)" stroke="url(#og)" stroke-width="2.0" stroke-linejoin="round">38.6<tspan style="font-style:italic">&quot;</tspan></text>
<text x="796.5" y="118.2" textLength="102.0" lengthAdjust="spacingAndGlyphs" style="font-family:'Liberation Sans',sans-serif;font-weight:bold;font-size:36px" fill="#fff" stroke="#fff" stroke-width="9" stroke-linejoin="round" filter="url(#blur2)">49.2<tspan style="font-style:italic">&quot;</tspan></text>
<text x="796.5" y="118.2" textLength="102.0" lengthAdjust="spacingAndGlyphs" style="font-family:'Liberation Sans',sans-serif;font-weight:bold;font-size:36px" fill="#fff" stroke="#fff" stroke-width="5" stroke-linejoin="round">49.2<tspan style="font-style:italic">&quot;</tspan></text>
<text x="796.5" y="118.2" textLength="102.0" lengthAdjust="spacingAndGlyphs" style="font-family:'Liberation Sans',sans-serif;font-weight:bold;font-size:36px" fill="url(#og)" stroke="url(#og)" stroke-width="2.0" stroke-linejoin="round">49.2<tspan style="font-style:italic">&quot;</tspan></text>
<text x="225.5" y="1159.0" textLength="93.5" lengthAdjust="spacingAndGlyphs" style="font-family:'Liberation Sans',sans-serif;font-weight:bold;font-size:37px" fill="#fff" stroke="#fff" stroke-width="9" stroke-linejoin="round" filter="url(#blur2)">15.8<tspan style="font-style:italic">&quot;</tspan></text>
<text x="225.5" y="1159.0" textLength="93.5" lengthAdjust="spacingAndGlyphs" style="font-family:'Liberation Sans',sans-serif;font-weight:bold;font-size:37px" fill="#fff" stroke="#fff" stroke-width="5" stroke-linejoin="round">15.8<tspan style="font-style:italic">&quot;</tspan></text>
<text x="225.5" y="1159.0" textLength="93.5" lengthAdjust="spacingAndGlyphs" style="font-family:'Liberation Sans',sans-serif;font-weight:bold;font-size:37px" fill="url(#og)" stroke="url(#og)" stroke-width="2.0" stroke-linejoin="round">15.8<tspan style="font-style:italic">&quot;</tspan></text>
<text x="660.5" y="1165.8" textLength="95.5" lengthAdjust="spacingAndGlyphs" style="font-family:'Liberation Sans',sans-serif;font-weight:bold;font-size:37px" fill="#fff" stroke="#fff" stroke-width="9" stroke-linejoin="round" filter="url(#blur2)">27.8<tspan style="font-style:italic">&quot;</tspan></text>
<text x="660.5" y="1165.8" textLength="95.5" lengthAdjust="spacingAndGlyphs" style="font-family:'Liberation Sans',sans-serif;font-weight:bold;font-size:37px" fill="#fff" stroke="#fff" stroke-width="5" stroke-linejoin="round">27.8<tspan style="font-style:italic">&quot;</tspan></text>
<text x="660.5" y="1165.8" textLength="95.5" lengthAdjust="spacingAndGlyphs" style="font-family:'Liberation Sans',sans-serif;font-weight:bold;font-size:37px" fill="url(#og)" stroke="url(#og)" stroke-width="2.0" stroke-linejoin="round">27.8<tspan style="font-style:italic">&quot;</tspan></text>
<text x="1074.0" y="1107.3" textLength="91.0" lengthAdjust="spacingAndGlyphs" style="font-family:'Liberation Sans',sans-serif;font-weight:bold;font-size:37px" fill="#fff" stroke="#fff" stroke-width="9" stroke-linejoin="round" filter="url(#blur2)">21.3<tspan style="font-style:italic">&quot;</tspan></text>
<text x="1074.0" y="1107.3" textLength="91.0" lengthAdjust="spacingAndGlyphs" style="font-family:'Liberation Sans',sans-serif;font-weight:bold;font-size:37px" fill="#fff" stroke="#fff" stroke-width="5" stroke-linejoin="round">21.3<tspan style="font-style:italic">&quot;</tspan></text>
<text x="1074.0" y="1107.3" textLength="91.0" lengthAdjust="spacingAndGlyphs" style="font-family:'Liberation Sans',sans-serif;font-weight:bold;font-size:37px" fill="url(#og)" stroke="url(#og)" stroke-width="2.0" stroke-linejoin="round">21.3<tspan style="font-style:italic">&quot;</tspan></text>
<g><circle cx="681.5" cy="23" r="15.4" fill="none" stroke="#333333" stroke-width="11.2"/><path d="M648.5,36.5 L714.5,36.5 Q718.5,36.5 719.5,40.5 L737.8,100.5 Q738.8,106.5 731.8,108.0 Q681.5,115.5 631.2,108.0 Q624.2,106.5 625.2,100.5 L643.5,40.5 Q644.5,36.5 648.5,36.5 Z" fill="#333333"/><text x="681.5" y="78" text-anchor="middle" textLength="53" lengthAdjust="spacingAndGlyphs" fill="#fff" stroke="#fff" stroke-width="2.6" stroke-linejoin="round" style="font-family:'Liberation Sans',sans-serif;font-weight:bold;font-size:45.5px">66</text><text x="681.5" y="106" text-anchor="middle" textLength="52" lengthAdjust="spacingAndGlyphs" fill="#fff" stroke="#fff" stroke-width="1.6" stroke-linejoin="round" style="font-family:'Liberation Sans',sans-serif;font-weight:bold;font-size:27px">LBS</text></g>
<g><circle cx="707.3" cy="229.9" r="15.4" fill="none" stroke="#333333" stroke-width="11.2"/><path d="M673.9,244.6 L740.6,244.6 Q744.6,244.6 745.6,248.6 L762.3,308.0 Q763.3,314.0 756.3,315.5 Q707.3,323.0 658.3,315.5 Q651.3,314.0 652.3,308.0 L668.9,248.6 Q669.9,244.6 673.9,244.6 Z" fill="#333333"/><text x="707.3" y="285.3" text-anchor="middle" textLength="53" lengthAdjust="spacingAndGlyphs" fill="#fff" stroke="#fff" stroke-width="2.6" stroke-linejoin="round" style="font-family:'Liberation Sans',sans-serif;font-weight:bold;font-size:45.5px">55</text><text x="707.3" y="313.8" text-anchor="middle" textLength="52" lengthAdjust="spacingAndGlyphs" fill="#fff" stroke="#fff" stroke-width="1.6" stroke-linejoin="round" style="font-family:'Liberation Sans',sans-serif;font-weight:bold;font-size:27px">LBS</text></g>
<clipPath id="rc"><rect x="680" y="200" width="27.5" height="50"/><circle cx="707.5" cy="230.5" r="9.9"/></clipPath>
<g clip-path="url(#rc)"><g transform="rotate(-1.387 402 225.3)"><rect x="670" y="225.3" width="60" height="14.2" fill="url(#rodg)"/></g></g>
<polygon points="16.0,1237.3 163.3,1222.7 361.7,1266.7 197.3,1293.3" fill="#e2e0dc" />
<polygon points="20.0,1239.0 165.0,1226.0 137.0,1264.0 60.0,1282.0" fill="#ebebea" />
<polygon points="165.0,1226.0 356.0,1268.0 203.0,1293.0 137.0,1264.0" fill="url(#inwall)" />
<polygon points="20.0,1239.0 60.0,1282.0 137.0,1264.0 203.0,1293.0 197.0,1292.0" fill="#e6e5e3" />
<polygon points="16.0,1237.3 163.3,1222.7 361.7,1266.7 197.3,1293.3" fill="none" stroke="#ececec" stroke-width="5.5" stroke-linejoin="round"/>
<polygon points="16.0,1237.3 163.3,1222.7 361.7,1266.7 197.3,1293.3" fill="none" stroke="#f8f8f8" stroke-width="1.5"/>
<polygon points="16.0,1242.0 197.3,1297.0 197.3,1476.7 16.0,1388.3" fill="#bebdbb" />
<polygon points="197.3,1297.0 361.7,1270.5 361.7,1443.3 197.3,1476.7" fill="#e3e2e2" />
<line x1="197.3" y1="1297.0" x2="361.7" y2="1270.5" stroke="#777777" stroke-width="1.2" />
<line x1="16.0" y1="1242.0" x2="197.3" y2="1297.0" stroke="#9a9a9a" stroke-width="1" />
<line x1="197.3" y1="1297.0" x2="197.3" y2="1476.7" stroke="#f2f2f2" stroke-width="1.2" />
<ellipse cx="267.4" cy="1394.7" rx="9.9" ry="18.7" fill="#a9a9a9" opacity="0.26" filter="url(#blur3)" transform="rotate(38 267.4 1394.7)"/>
<ellipse cx="282.2" cy="1370.0" rx="7.7" ry="9.4" fill="url(#knobc2)"/>
<ellipse cx="292.7" cy="1368.3" rx="14.9" ry="17.1" fill="#c48d5f"/>
<ellipse cx="293.2" cy="1368.3" rx="13.3" ry="15.5" fill="url(#knobc)"/>
<polygon points="450.5,1254.5 732.4,1223.0 922.7,1267.2 620.4,1310.5" fill="#e2e0dc" />
<polygon points="456.0,1257.0 733.0,1227.0 700.0,1262.0 500.0,1292.0" fill="#ebebea" />
<polygon points="733.0,1227.0 915.0,1268.0 628.0,1311.0 700.0,1262.0" fill="url(#inwall)" />
<polygon points="456.0,1257.0 500.0,1292.0 700.0,1262.0 628.0,1311.0 620.0,1310.0" fill="#e6e5e3" />
<polygon points="450.5,1254.5 732.4,1223.0 922.7,1267.2 620.4,1310.5" fill="none" stroke="#ececec" stroke-width="5.5" stroke-linejoin="round"/>
<polygon points="450.5,1254.5 732.4,1223.0 922.7,1267.2 620.4,1310.5" fill="none" stroke="#f8f8f8" stroke-width="1.5"/>
<polygon points="450.5,1259.7 620.4,1314.5 620.4,1476.5 450.5,1394.0" fill="#c1c0be" />
<polygon points="620.4,1314.5 922.7,1271.0 922.7,1424.0 620.4,1476.5" fill="#e0dfdf" />
<line x1="620.4" y1="1314.5" x2="922.7" y2="1271.0" stroke="#707070" stroke-width="1.2" />
<line x1="450.5" y1="1259.7" x2="620.4" y2="1314.5" stroke="#9a9a9a" stroke-width="1" />
<line x1="620.4" y1="1314.5" x2="620.4" y2="1476.5" stroke="#f2f2f2" stroke-width="1.2" />
<ellipse cx="764.9" cy="1400.9" rx="9.9" ry="18.7" fill="#a9a9a9" opacity="0.26" filter="url(#blur3)" transform="rotate(38 764.9 1400.9)"/>
<ellipse cx="779.8" cy="1376.2" rx="7.7" ry="9.4" fill="url(#knobc2)"/>
<ellipse cx="790.2" cy="1374.5" rx="14.9" ry="17.1" fill="#c48d5f"/>
<ellipse cx="790.8" cy="1374.5" rx="13.3" ry="15.5" fill="url(#knobc)"/>
<g><circle cx="679.7" cy="1206.7" r="15.4" fill="none" stroke="#333333" stroke-width="11.2"/><path d="M645.7,1220 L713.7,1220 Q717.7,1220 718.7,1224 L735.7,1283.5 Q736.7,1289.5 729.7,1291.0 Q679.7,1298.5 629.7,1291.0 Q622.7,1289.5 623.7,1283.5 L640.7,1224 Q641.7,1220 645.7,1220 Z" fill="#333333"/><text x="679.7" y="1260.7" text-anchor="middle" textLength="54" lengthAdjust="spacingAndGlyphs" fill="#fff" stroke="#fff" stroke-width="2.6" stroke-linejoin="round" style="font-family:'Liberation Sans',sans-serif;font-weight:bold;font-size:44px">22</text><text x="679.7" y="1289.7" text-anchor="middle" textLength="53" lengthAdjust="spacingAndGlyphs" fill="#fff" stroke="#fff" stroke-width="1.6" stroke-linejoin="round" style="font-family:'Liberation Sans',sans-serif;font-weight:bold;font-size:28px">LBS</text></g>
<line x1="374.3" y1="1265.7" x2="374.3" y2="1340.0" stroke="#ffe9a8" stroke-width="5.5" opacity="0.7" filter="url(#blur2)"/>
<line x1="374.3" y1="1265.7" x2="374.3" y2="1340.0" stroke="#b4945a" stroke-width="1.6" />
<line x1="374.3" y1="1390.0" x2="374.3" y2="1451.7" stroke="#ffe9a8" stroke-width="5.5" opacity="0.7" filter="url(#blur2)"/>
<line x1="374.3" y1="1390.0" x2="374.3" y2="1451.7" stroke="#b4945a" stroke-width="1.6" />
<line x1="196.0" y1="1482.7" x2="374.3" y2="1451.7" stroke="#ffe9a8" stroke-width="5.5" opacity="0.7" filter="url(#blur2)"/>
<line x1="196.0" y1="1482.7" x2="374.3" y2="1451.7" stroke="#b4945a" stroke-width="1.6" />
<line x1="10.0" y1="1393.3" x2="196.0" y2="1482.7" stroke="#ffe9a8" stroke-width="5.5" opacity="0.7" filter="url(#blur2)"/>
<line x1="10.0" y1="1393.3" x2="196.0" y2="1482.7" stroke="#b4945a" stroke-width="1.6" />
<circle cx="374.3" cy="1265.7" r="9.1" fill="url(#dotg)"/>
<circle cx="374.3" cy="1451.7" r="9.1" fill="url(#dotg)"/>
<circle cx="196.0" cy="1482.7" r="9.1" fill="url(#dotg)"/>
<circle cx="10.0" cy="1393.3" r="9.1" fill="url(#dotg)"/>
<line x1="941.7" y1="1265.7" x2="941.7" y2="1332.0" stroke="#ffe9a8" stroke-width="5.5" opacity="0.7" filter="url(#blur2)"/>
<line x1="941.7" y1="1265.7" x2="941.7" y2="1332.0" stroke="#b4945a" stroke-width="1.6" />
<line x1="941.7" y1="1378.0" x2="941.7" y2="1429.0" stroke="#ffe9a8" stroke-width="5.5" opacity="0.7" filter="url(#blur2)"/>
<line x1="941.7" y1="1378.0" x2="941.7" y2="1429.0" stroke="#b4945a" stroke-width="1.6" />
<line x1="617.3" y1="1489.3" x2="941.7" y2="1429.0" stroke="#ffe9a8" stroke-width="5.5" opacity="0.7" filter="url(#blur2)"/>
<line x1="617.3" y1="1489.3" x2="941.7" y2="1429.0" stroke="#b4945a" stroke-width="1.6" />
<line x1="446.7" y1="1409.3" x2="617.3" y2="1489.3" stroke="#ffe9a8" stroke-width="5.5" opacity="0.7" filter="url(#blur2)"/>
<line x1="446.7" y1="1409.3" x2="617.3" y2="1489.3" stroke="#b4945a" stroke-width="1.6" />
<circle cx="941.7" cy="1265.7" r="9.1" fill="url(#dotg)"/>
<circle cx="941.7" cy="1429.0" r="9.1" fill="url(#dotg)"/>
<circle cx="617.3" cy="1489.3" r="9.1" fill="url(#dotg)"/>
<circle cx="446.7" cy="1409.3" r="9.1" fill="url(#dotg)"/>
<text x="350.0" y="1375.0" textLength="55.0" lengthAdjust="spacingAndGlyphs" style="font-family:'Liberation Sans',sans-serif;font-weight:bold;font-size:27px" fill="#fff" stroke="#fff" stroke-width="9" stroke-linejoin="round" filter="url(#blur2)">8.1<tspan style="font-style:italic">&quot;</tspan></text>
<text x="350.0" y="1375.0" textLength="55.0" lengthAdjust="spacingAndGlyphs" style="font-family:'Liberation Sans',sans-serif;font-weight:bold;font-size:27px" fill="#fff" stroke="#fff" stroke-width="5" stroke-linejoin="round">8.1<tspan style="font-style:italic">&quot;</tspan></text>
<text x="350.0" y="1375.0" textLength="55.0" lengthAdjust="spacingAndGlyphs" style="font-family:'Liberation Sans',sans-serif;font-weight:bold;font-size:27px" fill="url(#og)" stroke="url(#og)" stroke-width="1.0" stroke-linejoin="round">8.1<tspan style="font-style:italic">&quot;</tspan></text>
<text x="258.5" y="1477.0" textLength="53.0" lengthAdjust="spacingAndGlyphs" style="font-family:'Liberation Sans',sans-serif;font-weight:bold;font-size:27px" fill="#fff" stroke="#fff" stroke-width="9" stroke-linejoin="round" filter="url(#blur2)">9.6<tspan style="font-style:italic">&quot;</tspan></text>
<text x="258.5" y="1477.0" textLength="53.0" lengthAdjust="spacingAndGlyphs" style="font-family:'Liberation Sans',sans-serif;font-weight:bold;font-size:27px" fill="#fff" stroke="#fff" stroke-width="5" stroke-linejoin="round">9.6<tspan style="font-style:italic">&quot;</tspan></text>
<text x="258.5" y="1477.0" textLength="53.0" lengthAdjust="spacingAndGlyphs" style="font-family:'Liberation Sans',sans-serif;font-weight:bold;font-size:27px" fill="url(#og)" stroke="url(#og)" stroke-width="1.0" stroke-linejoin="round">9.6<tspan style="font-style:italic">&quot;</tspan></text>
<text x="65.0" y="1441.7" textLength="66.5" lengthAdjust="spacingAndGlyphs" style="font-family:'Liberation Sans',sans-serif;font-weight:bold;font-size:27px" fill="#fff" stroke="#fff" stroke-width="9" stroke-linejoin="round" filter="url(#blur2)">14.6<tspan style="font-style:italic">&quot;</tspan></text>
<text x="65.0" y="1441.7" textLength="66.5" lengthAdjust="spacingAndGlyphs" style="font-family:'Liberation Sans',sans-serif;font-weight:bold;font-size:27px" fill="#fff" stroke="#fff" stroke-width="5" stroke-linejoin="round">14.6<tspan style="font-style:italic">&quot;</tspan></text>
<text x="65.0" y="1441.7" textLength="66.5" lengthAdjust="spacingAndGlyphs" style="font-family:'Liberation Sans',sans-serif;font-weight:bold;font-size:27px" fill="url(#og)" stroke="url(#og)" stroke-width="1.0" stroke-linejoin="round">14.6<tspan style="font-style:italic">&quot;</tspan></text>
<text x="918.5" y="1365.0" textLength="53.0" lengthAdjust="spacingAndGlyphs" style="font-family:'Liberation Sans',sans-serif;font-weight:bold;font-size:27px" fill="#fff" stroke="#fff" stroke-width="9" stroke-linejoin="round" filter="url(#blur2)">8.1<tspan style="font-style:italic">&quot;</tspan></text>
<text x="918.5" y="1365.0" textLength="53.0" lengthAdjust="spacingAndGlyphs" style="font-family:'Liberation Sans',sans-serif;font-weight:bold;font-size:27px" fill="#fff" stroke="#fff" stroke-width="5" stroke-linejoin="round">8.1<tspan style="font-style:italic">&quot;</tspan></text>
<text x="918.5" y="1365.0" textLength="53.0" lengthAdjust="spacingAndGlyphs" style="font-family:'Liberation Sans',sans-serif;font-weight:bold;font-size:27px" fill="url(#og)" stroke="url(#og)" stroke-width="1.0" stroke-linejoin="round">8.1<tspan style="font-style:italic">&quot;</tspan></text>
<text x="750.0" y="1468.3" textLength="61.5" lengthAdjust="spacingAndGlyphs" style="font-family:'Liberation Sans',sans-serif;font-weight:bold;font-size:27px" fill="#fff" stroke="#fff" stroke-width="9" stroke-linejoin="round" filter="url(#blur2)">19.5<tspan style="font-style:italic">&quot;</tspan></text>
<text x="750.0" y="1468.3" textLength="61.5" lengthAdjust="spacingAndGlyphs" style="font-family:'Liberation Sans',sans-serif;font-weight:bold;font-size:27px" fill="#fff" stroke="#fff" stroke-width="5" stroke-linejoin="round">19.5<tspan style="font-style:italic">&quot;</tspan></text>
<text x="750.0" y="1468.3" textLength="61.5" lengthAdjust="spacingAndGlyphs" style="font-family:'Liberation Sans',sans-serif;font-weight:bold;font-size:27px" fill="url(#og)" stroke="url(#og)" stroke-width="1.0" stroke-linejoin="round">19.5<tspan style="font-style:italic">&quot;</tspan></text>
<text x="503.5" y="1461.7" textLength="54.5" lengthAdjust="spacingAndGlyphs" style="font-family:'Liberation Sans',sans-serif;font-weight:bold;font-size:27px" fill="#fff" stroke="#fff" stroke-width="9" stroke-linejoin="round" filter="url(#blur2)">15.1<tspan style="font-style:italic">&quot;</tspan></text>
<text x="503.5" y="1461.7" textLength="54.5" lengthAdjust="spacingAndGlyphs" style="font-family:'Liberation Sans',sans-serif;font-weight:bold;font-size:27px" fill="#fff" stroke="#fff" stroke-width="5" stroke-linejoin="round">15.1<tspan style="font-style:italic">&quot;</tspan></text>
<text x="503.5" y="1461.7" textLength="54.5" lengthAdjust="spacingAndGlyphs" style="font-family:'Liberation Sans',sans-serif;font-weight:bold;font-size:27px" fill="url(#og)" stroke="url(#og)" stroke-width="1.0" stroke-linejoin="round">15.1<tspan style="font-style:italic">&quot;</tspan></text>
<rect x="1012" y="1156" width="486" height="330" rx="20" fill="url(#panelg)"/>
<text x="1105" y="1201.7" textLength="301.7" lengthAdjust="spacingAndGlyphs" style="font-family:'Liberation Sans',sans-serif;font-weight:bold;font-size:29px" fill="url(#og)" stroke="url(#og)" stroke-width="1.2" stroke-linejoin="round">Swappable installation</text>
<line x1="1173.0" y1="1228.4" x2="1173.0" y2="1364.2" stroke="#6a5746" stroke-width="2.6"/>
<line x1="1173.0" y1="1228.4" x2="1173.0" y2="1364.2" stroke="#fdf0df" stroke-width="1.5"/>
<ellipse cx="1173.0" cy="1364.8" rx="2.1" ry="1.5" fill="#4a3b2e"/>
<line x1="1098.5" y1="1271.0" x2="1098.5" y2="1406.8" stroke="#6a5746" stroke-width="2.6"/>
<line x1="1098.5" y1="1271.0" x2="1098.5" y2="1406.8" stroke="#fdf0df" stroke-width="1.5"/>
<ellipse cx="1098.5" cy="1407.4" rx="2.1" ry="1.5" fill="#4a3b2e"/>
<polygon points="1138.4,1415.4 1212.9,1372.8 1173.0,1350.3 1098.5,1392.9" fill="none" stroke="#6a5746" stroke-width="0.8" stroke-linejoin="round" opacity="1"/>
<line x1="1133.9" y1="1412.9" x2="1208.5" y2="1370.3" stroke="#6a5746" stroke-width="0.55" stroke-linecap="round"/>
<line x1="1129.5" y1="1410.4" x2="1204.0" y2="1367.8" stroke="#6a5746" stroke-width="0.55" stroke-linecap="round"/>
<line x1="1125.1" y1="1407.9" x2="1199.6" y2="1365.3" stroke="#6a5746" stroke-width="0.55" stroke-linecap="round"/>
<line x1="1120.6" y1="1405.4" x2="1195.2" y2="1362.8" stroke="#6a5746" stroke-width="0.55" stroke-linecap="round"/>
<line x1="1116.2" y1="1402.9" x2="1190.7" y2="1360.3" stroke="#6a5746" stroke-width="0.55" stroke-linecap="round"/>
<line x1="1111.8" y1="1400.4" x2="1186.3" y2="1357.8" stroke="#6a5746" stroke-width="0.55" stroke-linecap="round"/>
<line x1="1107.3" y1="1397.9" x2="1181.9" y2="1355.3" stroke="#6a5746" stroke-width="0.55" stroke-linecap="round"/>
<line x1="1102.9" y1="1395.4" x2="1177.4" y2="1352.8" stroke="#6a5746" stroke-width="0.55" stroke-linecap="round"/>
<line x1="1163.2" y1="1401.2" x2="1123.3" y2="1378.7" stroke="#6a5746" stroke-width="0.8" stroke-linecap="round"/>
<line x1="1188.1" y1="1387.0" x2="1148.2" y2="1364.5" stroke="#6a5746" stroke-width="0.8" stroke-linecap="round"/>
<line x1="1173.0" y1="1228.4" x2="1173.0" y2="1364.2" stroke="#6a5746" stroke-width="2.6"/>
<line x1="1173.0" y1="1228.4" x2="1173.0" y2="1364.2" stroke="#fdf0df" stroke-width="1.5"/>
<ellipse cx="1173.0" cy="1364.8" rx="2.1" ry="1.5" fill="#4a3b2e"/>
<polygon points="1211.3,1263.8 1174.6,1243.1 1174.6,1300.0 1211.3,1320.7" fill="none" stroke="#6a5746" stroke-width="0.8" stroke-linejoin="round" opacity="1"/>
<line x1="1205.2" y1="1260.4" x2="1205.2" y2="1317.2" stroke="#6a5746" stroke-width="0.6" stroke-linecap="round"/>
<line x1="1199.1" y1="1256.9" x2="1199.1" y2="1313.8" stroke="#6a5746" stroke-width="0.6" stroke-linecap="round"/>
<line x1="1193.0" y1="1253.5" x2="1193.0" y2="1310.3" stroke="#6a5746" stroke-width="0.6" stroke-linecap="round"/>
<line x1="1186.8" y1="1250.0" x2="1186.8" y2="1306.9" stroke="#6a5746" stroke-width="0.6" stroke-linecap="round"/>
<line x1="1180.7" y1="1246.6" x2="1180.7" y2="1303.4" stroke="#6a5746" stroke-width="0.6" stroke-linecap="round"/>
<line x1="1211.3" y1="1275.2" x2="1174.6" y2="1254.5" stroke="#6a5746" stroke-width="0.6" stroke-linecap="round"/>
<line x1="1211.3" y1="1286.6" x2="1174.6" y2="1265.9" stroke="#6a5746" stroke-width="0.6" stroke-linecap="round"/>
<line x1="1211.3" y1="1297.9" x2="1174.6" y2="1277.2" stroke="#6a5746" stroke-width="0.6" stroke-linecap="round"/>
<line x1="1211.3" y1="1309.3" x2="1174.6" y2="1288.6" stroke="#6a5746" stroke-width="0.6" stroke-linecap="round"/>
<polygon points="1085.5,1325.1 1045.6,1302.6 1045.6,1427.3 1085.5,1449.8" fill="#fef3e4" stroke="#6a5746" stroke-width="0.7" stroke-linejoin="round" opacity="1"/>
<line x1="1085.5" y1="1347.2" x2="1045.6" y2="1317.8" stroke="#6a5746" stroke-width="0.7" stroke-linecap="round"/>
<line x1="1085.5" y1="1349.3" x2="1045.6" y2="1319.9" stroke="#6a5746" stroke-width="0.7" stroke-linecap="round"/>
<line x1="1085.5" y1="1372.2" x2="1045.6" y2="1342.8" stroke="#6a5746" stroke-width="0.7" stroke-linecap="round"/>
<line x1="1085.5" y1="1374.3" x2="1045.6" y2="1344.8" stroke="#6a5746" stroke-width="0.7" stroke-linecap="round"/>
<line x1="1085.5" y1="1397.1" x2="1045.6" y2="1367.7" stroke="#6a5746" stroke-width="0.7" stroke-linecap="round"/>
<line x1="1085.5" y1="1399.2" x2="1045.6" y2="1369.8" stroke="#6a5746" stroke-width="0.7" stroke-linecap="round"/>
<line x1="1085.5" y1="1423.5" x2="1045.6" y2="1394.0" stroke="#6a5746" stroke-width="0.7" stroke-linecap="round"/>
<line x1="1085.5" y1="1425.5" x2="1045.6" y2="1396.1" stroke="#6a5746" stroke-width="0.7" stroke-linecap="round"/>
<polygon points="1085.5,1325.1 1138.4,1294.8 1138.4,1419.6 1085.5,1449.8" fill="#fef3e4" stroke="#6a5746" stroke-width="0.7" stroke-linejoin="round" opacity="1"/>
<line x1="1085.5" y1="1344.5" x2="1138.4" y2="1314.2" stroke="#6a5746" stroke-width="0.7" stroke-linecap="round"/>
<line x1="1085.5" y1="1369.4" x2="1138.4" y2="1339.2" stroke="#6a5746" stroke-width="0.7" stroke-linecap="round"/>
<line x1="1085.5" y1="1394.4" x2="1138.4" y2="1364.1" stroke="#6a5746" stroke-width="0.7" stroke-linecap="round"/>
<line x1="1085.5" y1="1420.7" x2="1138.4" y2="1390.5" stroke="#6a5746" stroke-width="0.7" stroke-linecap="round"/>
<line x1="1111.9" y1="1310.0" x2="1111.9" y2="1329.4" stroke="#6a5746" stroke-width="0.7" stroke-linecap="round"/>
<circle cx="1099.8" cy="1326.6" r="1.5" fill="#fff" stroke="#3f3228" stroke-width="0.9"/>
<circle cx="1126.2" cy="1311.5" r="1.5" fill="#fff" stroke="#3f3228" stroke-width="0.9"/>
<circle cx="1111.9" cy="1341.8" r="1.5" fill="#fff" stroke="#3f3228" stroke-width="0.9"/>
<circle cx="1111.9" cy="1366.8" r="1.5" fill="#fff" stroke="#3f3228" stroke-width="0.9"/>
<circle cx="1111.9" cy="1392.4" r="1.5" fill="#fff" stroke="#3f3228" stroke-width="0.9"/>
<circle cx="1111.9" cy="1420.1" r="1.5" fill="#fff" stroke="#3f3228" stroke-width="0.9"/>
<line x1="1045.6" y1="1427.3" x2="1045.6" y2="1437.0" stroke="#6a5746" stroke-width="2.6"/>
<line x1="1045.6" y1="1427.3" x2="1045.6" y2="1437.0" stroke="#fdf0df" stroke-width="1.5"/>
<ellipse cx="1045.6" cy="1437.6" rx="2.1" ry="1.5" fill="#4a3b2e"/>
<line x1="1085.5" y1="1323.7" x2="1085.5" y2="1459.5" stroke="#6a5746" stroke-width="2.6"/>
<line x1="1085.5" y1="1323.7" x2="1085.5" y2="1459.5" stroke="#fdf0df" stroke-width="1.5"/>
<ellipse cx="1085.5" cy="1460.1" rx="2.1" ry="1.5" fill="#4a3b2e"/>
<line x1="1138.4" y1="1293.5" x2="1138.4" y2="1429.3" stroke="#6a5746" stroke-width="2.6"/>
<line x1="1138.4" y1="1293.5" x2="1138.4" y2="1429.3" stroke="#fdf0df" stroke-width="1.5"/>
<ellipse cx="1138.4" cy="1429.9" rx="2.1" ry="1.5" fill="#4a3b2e"/>
<line x1="1045.6" y1="1301.2" x2="1045.6" y2="1437.0" stroke="#6a5746" stroke-width="2.6"/>
<line x1="1045.6" y1="1301.2" x2="1045.6" y2="1437.0" stroke="#fdf0df" stroke-width="1.5"/>
<ellipse cx="1045.6" cy="1437.6" rx="2.1" ry="1.5" fill="#4a3b2e"/>
<line x1="1212.9" y1="1250.9" x2="1212.9" y2="1386.7" stroke="#6a5746" stroke-width="2.6"/>
<line x1="1212.9" y1="1250.9" x2="1212.9" y2="1386.7" stroke="#fdf0df" stroke-width="1.5"/>
<ellipse cx="1212.9" cy="1387.3" rx="2.1" ry="1.5" fill="#4a3b2e"/>
<polygon points="1085.5,1320.9 1212.9,1248.1 1212.9,1251.1 1085.5,1323.9" fill="#fbe9d3" stroke="#6a5746" stroke-width="0.7" stroke-linejoin="round" opacity="1"/>
<polygon points="1085.5,1320.9 1045.6,1298.4 1045.6,1301.4 1085.5,1323.9" fill="#fbe9d3" stroke="#6a5746" stroke-width="0.7" stroke-linejoin="round" opacity="1"/>
<polygon points="1085.5,1320.9 1212.9,1248.1 1173.0,1225.6 1045.6,1298.4" fill="#fdeedb" stroke="#6a5746" stroke-width="0.7" stroke-linejoin="round" opacity="1"/>
<line x1="1138.4" y1="1290.7" x2="1098.5" y2="1268.2" stroke="#6a5746" stroke-width="0.7" stroke-linecap="round"/>
<polygon points="1085.5,1320.9 1138.4,1290.7 1098.5,1268.2 1045.6,1298.4" fill="#fff6ea" stroke="#6a5746" stroke-width="0.7" stroke-linejoin="round" opacity="1"/>
<line x1="1305.6" y1="1283.9" x2="1305.6" y2="1418.9" stroke="#6a5746" stroke-width="2.6"/>
<line x1="1305.6" y1="1283.9" x2="1305.6" y2="1418.9" stroke="#fdf0df" stroke-width="1.5"/>
<ellipse cx="1305.6" cy="1419.5" rx="2.1" ry="1.5" fill="#4a3b2e"/>
<line x1="1377.5" y1="1242.0" x2="1377.5" y2="1377.0" stroke="#6a5746" stroke-width="2.6"/>
<line x1="1377.5" y1="1242.0" x2="1377.5" y2="1377.0" stroke="#fdf0df" stroke-width="1.5"/>
<ellipse cx="1377.5" cy="1377.6" rx="2.1" ry="1.5" fill="#4a3b2e"/>
<polygon points="1347.2,1428.5 1419.1,1386.7 1377.5,1363.3 1305.6,1405.1" fill="none" stroke="#6a5746" stroke-width="0.8" stroke-linejoin="round" opacity="1"/>
<line x1="1342.6" y1="1425.9" x2="1414.4" y2="1384.1" stroke="#6a5746" stroke-width="0.55" stroke-linecap="round"/>
<line x1="1338.0" y1="1423.3" x2="1409.8" y2="1381.5" stroke="#6a5746" stroke-width="0.55" stroke-linecap="round"/>
<line x1="1333.3" y1="1420.7" x2="1405.2" y2="1378.9" stroke="#6a5746" stroke-width="0.55" stroke-linecap="round"/>
<line x1="1328.7" y1="1418.1" x2="1400.6" y2="1376.3" stroke="#6a5746" stroke-width="0.55" stroke-linecap="round"/>
<line x1="1324.1" y1="1415.5" x2="1395.9" y2="1373.7" stroke="#6a5746" stroke-width="0.55" stroke-linecap="round"/>
<line x1="1319.5" y1="1412.9" x2="1391.3" y2="1371.1" stroke="#6a5746" stroke-width="0.55" stroke-linecap="round"/>
<line x1="1314.8" y1="1410.3" x2="1386.7" y2="1368.5" stroke="#6a5746" stroke-width="0.55" stroke-linecap="round"/>
<line x1="1310.2" y1="1407.7" x2="1382.1" y2="1365.9" stroke="#6a5746" stroke-width="0.55" stroke-linecap="round"/>
<line x1="1371.2" y1="1414.6" x2="1329.6" y2="1391.2" stroke="#6a5746" stroke-width="0.8" stroke-linecap="round"/>
<line x1="1395.1" y1="1400.6" x2="1353.5" y2="1377.2" stroke="#6a5746" stroke-width="0.8" stroke-linecap="round"/>
<polygon points="1345.5,1320.1 1307.3,1298.6 1307.3,1355.1 1345.5,1376.6" fill="none" stroke="#6a5746" stroke-width="0.8" stroke-linejoin="round" opacity="1"/>
<line x1="1339.2" y1="1316.5" x2="1339.2" y2="1373.0" stroke="#6a5746" stroke-width="0.6" stroke-linecap="round"/>
<line x1="1332.8" y1="1312.9" x2="1332.8" y2="1369.4" stroke="#6a5746" stroke-width="0.6" stroke-linecap="round"/>
<line x1="1326.4" y1="1309.3" x2="1326.4" y2="1365.8" stroke="#6a5746" stroke-width="0.6" stroke-linecap="round"/>
<line x1="1320.0" y1="1305.7" x2="1320.0" y2="1362.2" stroke="#6a5746" stroke-width="0.6" stroke-linecap="round"/>
<line x1="1313.6" y1="1302.2" x2="1313.6" y2="1358.7" stroke="#6a5746" stroke-width="0.6" stroke-linecap="round"/>
<line x1="1345.5" y1="1331.4" x2="1307.3" y2="1309.9" stroke="#6a5746" stroke-width="0.6" stroke-linecap="round"/>
<line x1="1345.5" y1="1342.7" x2="1307.3" y2="1321.2" stroke="#6a5746" stroke-width="0.6" stroke-linecap="round"/>
<line x1="1345.5" y1="1354.0" x2="1307.3" y2="1332.5" stroke="#6a5746" stroke-width="0.6" stroke-linecap="round"/>
<line x1="1345.5" y1="1365.3" x2="1307.3" y2="1343.8" stroke="#6a5746" stroke-width="0.6" stroke-linecap="round"/>
<polygon points="1419.1,1266.8 1377.5,1243.4 1377.5,1367.4 1419.1,1390.8" fill="#fef3e4" stroke="#6a5746" stroke-width="0.7" stroke-linejoin="round" opacity="1"/>
<line x1="1419.1" y1="1288.8" x2="1377.5" y2="1258.5" stroke="#6a5746" stroke-width="0.7" stroke-linecap="round"/>
<line x1="1419.1" y1="1290.9" x2="1377.5" y2="1260.6" stroke="#6a5746" stroke-width="0.7" stroke-linecap="round"/>
<line x1="1419.1" y1="1313.6" x2="1377.5" y2="1283.3" stroke="#6a5746" stroke-width="0.7" stroke-linecap="round"/>
<line x1="1419.1" y1="1315.7" x2="1377.5" y2="1285.4" stroke="#6a5746" stroke-width="0.7" stroke-linecap="round"/>
<line x1="1419.1" y1="1338.4" x2="1377.5" y2="1308.1" stroke="#6a5746" stroke-width="0.7" stroke-linecap="round"/>
<line x1="1419.1" y1="1340.5" x2="1377.5" y2="1310.2" stroke="#6a5746" stroke-width="0.7" stroke-linecap="round"/>
<line x1="1419.1" y1="1364.6" x2="1377.5" y2="1334.3" stroke="#6a5746" stroke-width="0.7" stroke-linecap="round"/>
<line x1="1419.1" y1="1366.7" x2="1377.5" y2="1336.4" stroke="#6a5746" stroke-width="0.7" stroke-linecap="round"/>
<polygon points="1419.1,1266.8 1473.7,1234.9 1473.7,1359.0 1419.1,1390.8" fill="#fef3e4" stroke="#6a5746" stroke-width="0.7" stroke-linejoin="round" opacity="1"/>
<line x1="1419.1" y1="1286.1" x2="1473.7" y2="1254.2" stroke="#6a5746" stroke-width="0.7" stroke-linecap="round"/>
<line x1="1419.1" y1="1310.9" x2="1473.7" y2="1279.0" stroke="#6a5746" stroke-width="0.7" stroke-linecap="round"/>
<line x1="1419.1" y1="1335.7" x2="1473.7" y2="1303.8" stroke="#6a5746" stroke-width="0.7" stroke-linecap="round"/>
<line x1="1419.1" y1="1361.9" x2="1473.7" y2="1330.0" stroke="#6a5746" stroke-width="0.7" stroke-linecap="round"/>
<line x1="1446.4" y1="1250.9" x2="1446.4" y2="1270.1" stroke="#6a5746" stroke-width="0.7" stroke-linecap="round"/>
<circle cx="1433.8" cy="1267.8" r="1.5" fill="#fff" stroke="#3f3228" stroke-width="0.9"/>
<circle cx="1461.1" cy="1251.9" r="1.5" fill="#fff" stroke="#3f3228" stroke-width="0.9"/>
<circle cx="1446.4" cy="1282.5" r="1.5" fill="#fff" stroke="#3f3228" stroke-width="0.9"/>
<circle cx="1446.4" cy="1307.4" r="1.5" fill="#fff" stroke="#3f3228" stroke-width="0.9"/>
<circle cx="1446.4" cy="1332.8" r="1.5" fill="#fff" stroke="#3f3228" stroke-width="0.9"/>
<circle cx="1446.4" cy="1360.4" r="1.5" fill="#fff" stroke="#3f3228" stroke-width="0.9"/>
<line x1="1419.1" y1="1265.4" x2="1419.1" y2="1400.4" stroke="#6a5746" stroke-width="2.6"/>
<line x1="1419.1" y1="1265.4" x2="1419.1" y2="1400.4" stroke="#fdf0df" stroke-width="1.5"/>
<ellipse cx="1419.1" cy="1401.0" rx="2.1" ry="1.5" fill="#4a3b2e"/>
<line x1="1473.7" y1="1233.6" x2="1473.7" y2="1368.6" stroke="#6a5746" stroke-width="2.6"/>
<line x1="1473.7" y1="1233.6" x2="1473.7" y2="1368.6" stroke="#fdf0df" stroke-width="1.5"/>
<ellipse cx="1473.7" cy="1369.2" rx="2.1" ry="1.5" fill="#4a3b2e"/>
<line x1="1473.7" y1="1233.6" x2="1473.7" y2="1368.6" stroke="#6a5746" stroke-width="2.6"/>
<line x1="1473.7" y1="1233.6" x2="1473.7" y2="1368.6" stroke="#fdf0df" stroke-width="1.5"/>
<ellipse cx="1473.7" cy="1369.2" rx="2.1" ry="1.5" fill="#4a3b2e"/>
<line x1="1347.2" y1="1307.3" x2="1347.2" y2="1442.3" stroke="#6a5746" stroke-width="2.6"/>
<line x1="1347.2" y1="1307.3" x2="1347.2" y2="1442.3" stroke="#fdf0df" stroke-width="1.5"/>
<ellipse cx="1347.2" cy="1442.9" rx="2.1" ry="1.5" fill="#4a3b2e"/>
<line x1="1305.6" y1="1283.9" x2="1305.6" y2="1418.9" stroke="#6a5746" stroke-width="2.6"/>
<line x1="1305.6" y1="1283.9" x2="1305.6" y2="1418.9" stroke="#fdf0df" stroke-width="1.5"/>
<ellipse cx="1305.6" cy="1419.5" rx="2.1" ry="1.5" fill="#4a3b2e"/>
<polygon points="1347.2,1304.5 1473.7,1230.8 1473.7,1233.8 1347.2,1307.5" fill="#fbe9d3" stroke="#6a5746" stroke-width="0.7" stroke-linejoin="round" opacity="1"/>
<polygon points="1347.2,1304.5 1305.6,1281.1 1305.6,1284.1 1347.2,1307.5" fill="#fbe9d3" stroke="#6a5746" stroke-width="0.7" stroke-linejoin="round" opacity="1"/>
<polygon points="1347.2,1304.5 1473.7,1230.8 1432.1,1207.4 1305.6,1281.1" fill="#fdeedb" stroke="#6a5746" stroke-width="0.7" stroke-linejoin="round" opacity="1"/>
<line x1="1419.1" y1="1262.6" x2="1377.5" y2="1239.2" stroke="#6a5746" stroke-width="0.7" stroke-linecap="round"/>
<polygon points="1419.1,1262.6 1473.7,1230.8 1432.1,1207.4 1377.5,1239.2" fill="#fff6ea" stroke="#6a5746" stroke-width="0.7" stroke-linejoin="round" opacity="1"/>
<path d="M1263.7,1311 C1252,1312.5 1242.5,1320 1239.7,1334 L1235.2,1333.7 L1245.1,1346.5 L1256.8,1333.1 L1252,1333.3 C1252,1325 1256,1317 1263.7,1311 Z" fill="#fff3d6" stroke="#fff3d6" stroke-width="3" stroke-linejoin="round" opacity="0.9"/>
<path d="M1273.3,1319 L1262.7,1330.5 L1266.4,1330.4 C1267,1340 1263.5,1348.5 1255.7,1353.9 C1270,1352.5 1278.5,1344 1279.2,1330.8 L1284,1331 Z" fill="#fff3d6" stroke="#fff3d6" stroke-width="3" stroke-linejoin="round" opacity="0.9"/>
<path d="M1263.7,1311 C1252,1312.5 1242.5,1320 1239.7,1334 L1235.2,1333.7 L1245.1,1346.5 L1256.8,1333.1 L1252,1333.3 C1252,1325 1256,1317 1263.7,1311 Z" fill="#f6a112" stroke="#d98a1c" stroke-width="0.5"/>
<path d="M1273.3,1319 L1262.7,1330.5 L1266.4,1330.4 C1267,1340 1263.5,1348.5 1255.7,1353.9 C1270,1352.5 1278.5,1344 1279.2,1330.8 L1284,1331 Z" fill="#f18a12" stroke="#d07a18" stroke-width="0.5"/></svg></body></html>
